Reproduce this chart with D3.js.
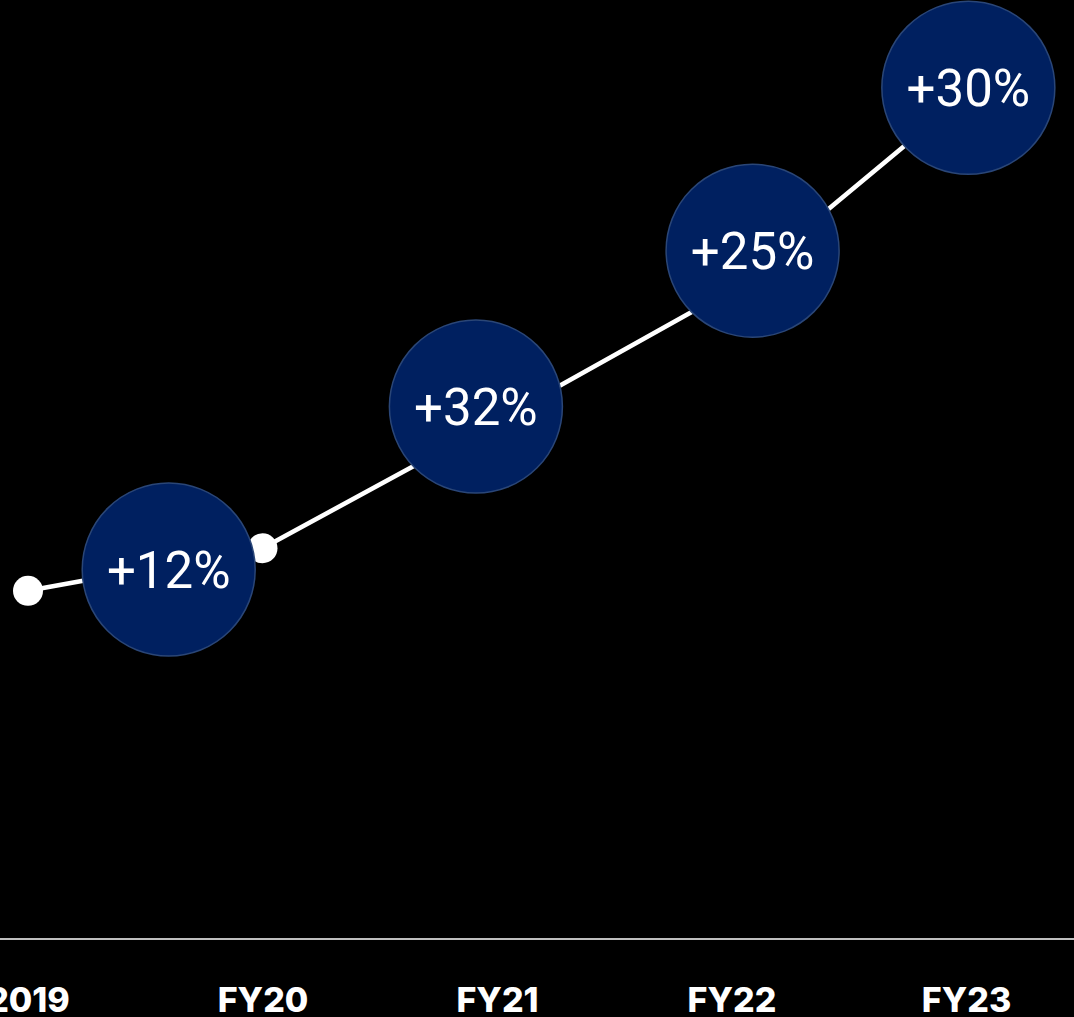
<!DOCTYPE html>
<html>
<head>
<meta charset="utf-8">
<script src="https://cdn.jsdelivr.net/npm/d3@7"></script>
<style>
  html, body { margin: 0; padding: 0; background: #000; overflow: hidden; }
  svg { display: block; }
</style>
</head>
<body>
<svg id="chart"></svg>
<script>
// Revenue index by year (2019 = 100)
const categories = ["2019", "FY20", "FY21", "FY22", "FY23"];
const values = [100, 112, 148, 185, 240];

// Growth badges: where each badge sits (category position, index level)
const badgeAt = [0.6, 1.91, 3.09, 4.01];
const badgeLevel = [106, 152, 196, 242];

const W = 1074, H = 1017;
const axisY = 939;

const svg = d3.select("#chart").attr("width", W).attr("height", H);
svg.append("rect").attr("width", W).attr("height", H).attr("fill", "#000");

const x = d3.scaleLinear().domain([0, categories.length - 1]).range([28, 966]);
const y = d3.scaleLinear().domain([0, 260]).range([945, 24]);

const points = values.map((v, i) => ({ i, v }));

// Connecting line
svg.append("path")
  .datum(points)
  .attr("fill", "none")
  .attr("stroke", "#fff")
  .attr("stroke-width", 4.6)
  .attr("stroke-linejoin", "round")
  .attr("d", d3.line().x(d => x(d.i)).y(d => y(d.v)));

// Year markers
svg.append("g").selectAll("circle")
  .data(points)
  .join("circle")
  .attr("cx", d => x(d.i))
  .attr("cy", d => y(d.v))
  .attr("r", 15)
  .attr("fill", "#fff");

// Year-over-year growth badges
const badges = badgeAt.map((p, k) => ({
  p,
  level: badgeLevel[k],
  label: "+" + Math.round((values[k + 1] / values[k] - 1) * 100) + "%"
}));

const bg = svg.append("g").selectAll("g")
  .data(badges)
  .join("g")
  .attr("transform", d => `translate(${x(d.p)},${y(d.level)})`);

bg.append("circle")
  .attr("r", 86.5)
  .attr("fill", "#002060")
  .attr("stroke", "#2a4677")
  .attr("stroke-width", 1.5);

bg.append("text")
  .attr("text-anchor", "middle")
  .attr("dy", "0.355em")
  .attr("fill", "#fff")
  .attr("font-family", "Roboto, 'Noto Sans', sans-serif")
  .attr("font-size", 51)
  .attr("font-weight", 400)
  .text(d => d.label);

// Baseline and category labels
svg.append("line")
  .attr("x1", 0).attr("x2", W)
  .attr("y1", axisY).attr("y2", axisY)
  .attr("stroke", "#bfbfbf")
  .attr("stroke-width", 2);

const axis = d3.axisBottom(x)
  .tickValues(d3.range(categories.length))
  .tickFormat(i => categories[i])
  .tickSize(0);

const ag = svg.append("g")
  .attr("transform", `translate(0,${axisY})`)
  .call(axis);
ag.select(".domain").remove();
ag.selectAll("text")
  .attr("y", 73)
  .attr("dy", 0)
  .attr("fill", "#fff")
  .attr("font-family", "Inter, 'Noto Sans', sans-serif")
  .attr("font-weight", 800)
  .attr("font-size", 34);
</script>
</body>
</html>
